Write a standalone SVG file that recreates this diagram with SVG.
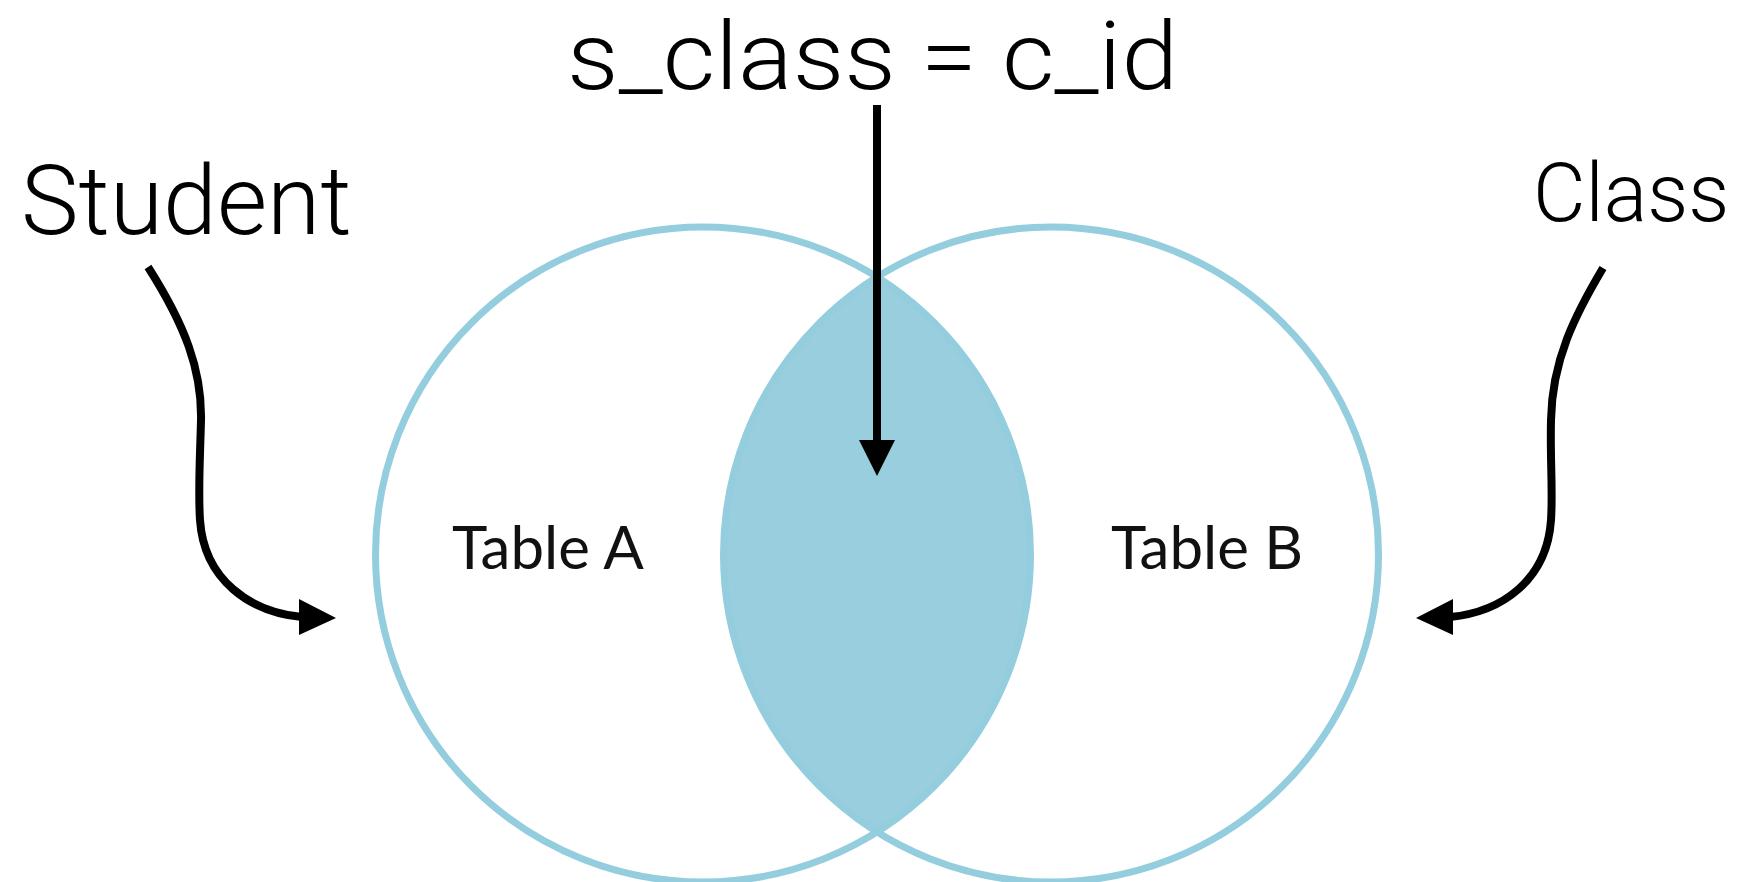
<svg xmlns="http://www.w3.org/2000/svg" width="1742" height="882" viewBox="0 0 1742 882">
<defs>
<style>
.ring{fill:none;stroke:#93CDDE;stroke-width:7}
.lens{fill:#98CEDD;stroke:none}
.tbl{font-family:Lato,"Open Sans","Liberation Sans",sans-serif;font-size:60px;fill:#111}
.lbl{font-family:Roboto,"Liberation Sans",sans-serif;font-weight:300;fill:#000}
.conn{fill:none;stroke:#000;stroke-width:8}
.head{fill:#000;stroke:none}
</style>
</defs>
<rect width="1742" height="882" fill="#fff"/>
<g id="intersection">
<path class="lens" d="M877,277 A327.5,327.5 0 0 1 877,832 A327.5,327.5 0 0 1 877,277 Z"/>
</g>
<g id="tableA">
<circle class="ring" cx="703" cy="554.5" r="327.5"/>
<text class="tbl" x="452" y="569">Table A</text>
</g>
<g id="tableB">
<circle class="ring" cx="1051" cy="554.5" r="327.5"/>
<text class="tbl" x="1111" y="569">Table B</text>
</g>
<g id="student">
<text class="lbl" x="21" y="234" font-size="97">Student</text>
</g>
<g id="class">
<text class="lbl" x="1533" y="221" font-size="81">Class</text>
</g>
<g id="condition">
<text class="lbl" x="567" y="89" font-size="95" textLength="611" lengthAdjust="spacingAndGlyphs">s_class = c_id</text>
</g>
<g id="connectors">
<path class="conn" d="M877,105 L877,442"/>
<polygon class="head" points="859,440 895,440 877,476"/>
<path class="conn" d="M148,267 C185,325 202,370 201,420 C200,460 198,490 200,520 C204,580 250,612 302,617"/>
<polygon class="head" points="299,599 336,618 299,635"/>
<path class="conn" d="M1603,268 C1575,315 1552,360 1551,420 C1550,460 1553,490 1551,520 C1547,580 1502,612 1450,617"/>
<polygon class="head" points="1453,599 1416,618 1453,635"/>
</g>
</svg>
